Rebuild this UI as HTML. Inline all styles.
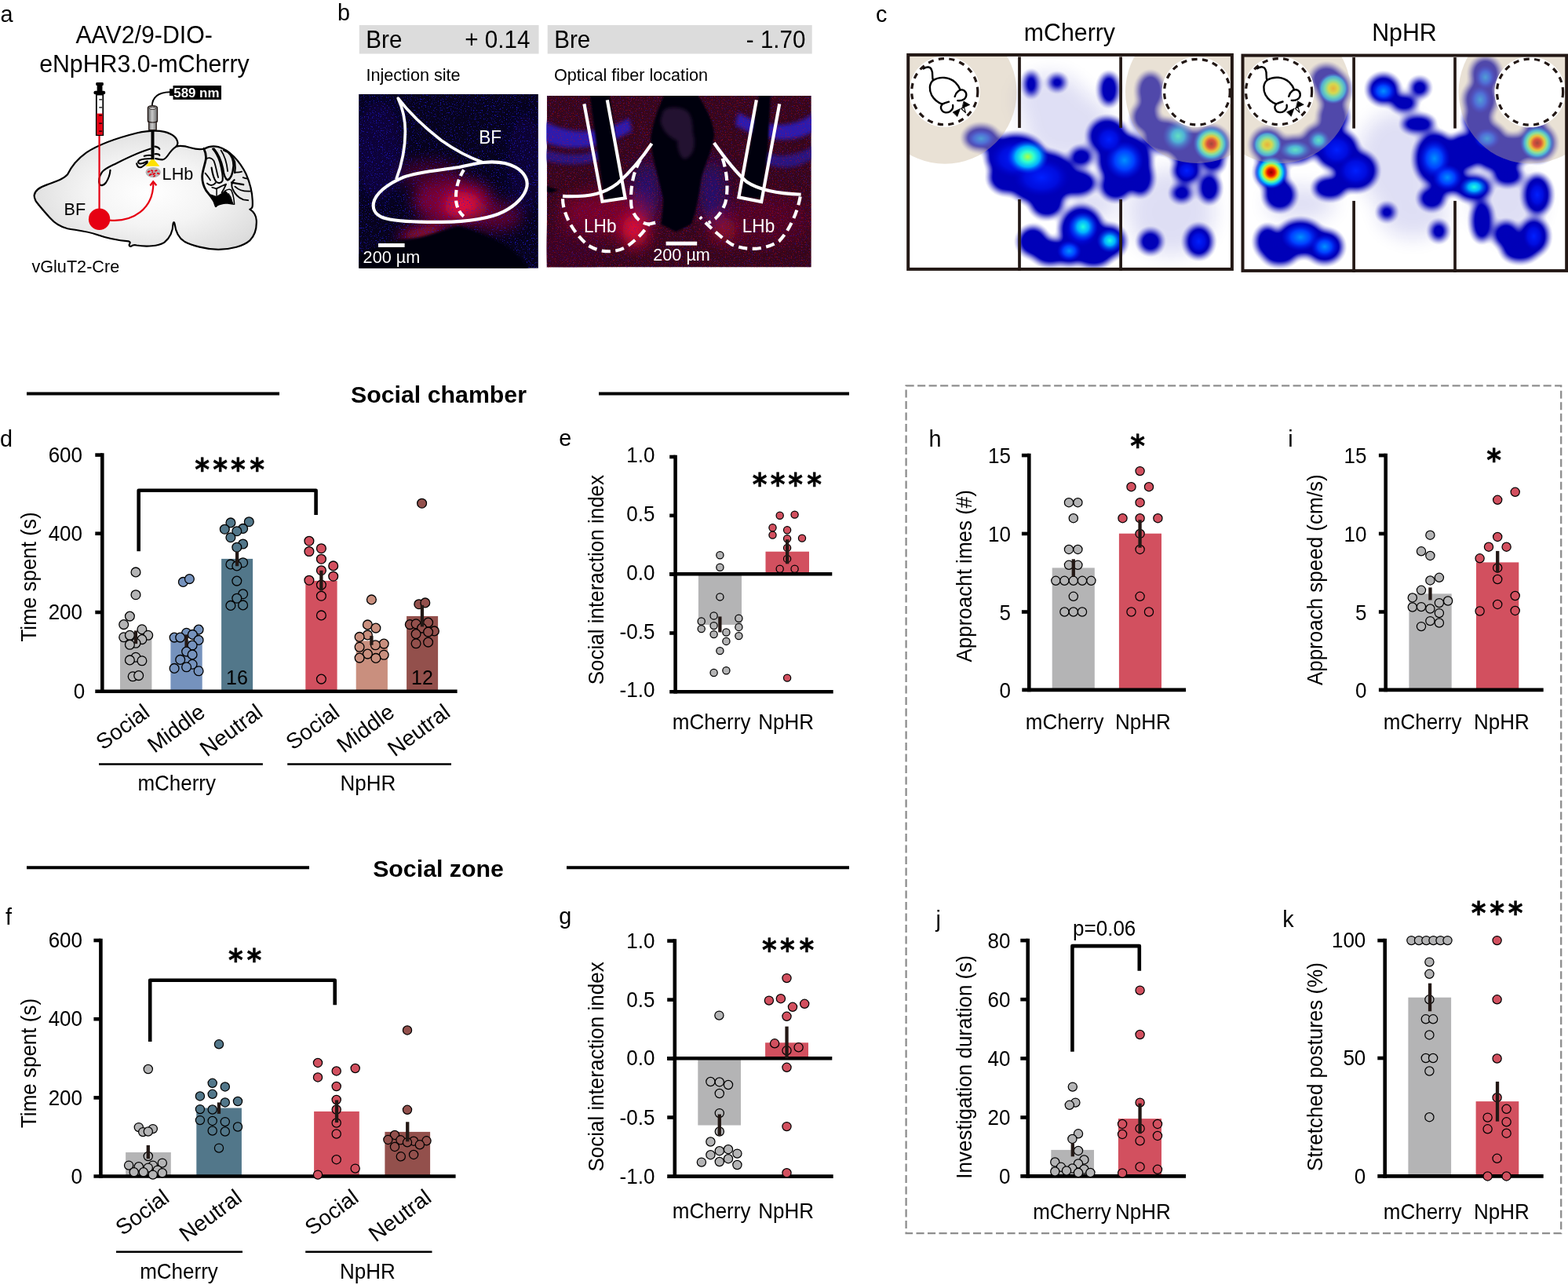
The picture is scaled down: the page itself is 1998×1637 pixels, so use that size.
<!DOCTYPE html>
<html lang="en">
<head>
<meta charset="utf-8">
<title>Figure</title>
<style>
html,body{margin:0;padding:0;background:#fff;}
body{width:1998px;height:1637px;overflow:hidden;}
svg{display:block;font-family:'Liberation Sans', sans-serif;}
</style>
</head>
<body>
<svg width="1998" height="1637" viewBox="0 0 1998 1637">
<defs>
<radialGradient id="brainG" cx="0.52" cy="0.52" r="0.62">
<stop offset="0" stop-color="#ffffff"/><stop offset="0.45" stop-color="#f4f4f4"/><stop offset="1" stop-color="#d9d9d9"/>
</radialGradient>
<linearGradient id="ferG" x1="0" x2="1" y1="0" y2="0">
<stop offset="0" stop-color="#5d5d5d"/><stop offset="0.45" stop-color="#c9c9c9"/><stop offset="1" stop-color="#6a6a6a"/>
</linearGradient>
<filter id="spk1" x="0" y="0" width="100%" height="100%" color-interpolation-filters="sRGB">
<feTurbulence type="fractalNoise" baseFrequency="0.62" numOctaves="2" seed="7" result="n"/>
<feColorMatrix in="n" type="matrix" values="0 0 0 0 0.12  0 0 0 0 0.10  0 0 0 0 0.85  0 0 6 0 -3.55"/>
</filter>
<filter id="spk2" x="0" y="0" width="100%" height="100%" color-interpolation-filters="sRGB">
<feTurbulence type="fractalNoise" baseFrequency="0.7" numOctaves="2" seed="23" result="n"/>
<feColorMatrix in="n" type="matrix" values="0 0 0 0 0.80  0 0 0 0 0.04  0 0 0 0 0.12  6 0 0 0 -3.6"/>
</filter>
<filter id="b2" x="-30%" y="-30%" width="160%" height="160%"><feGaussianBlur stdDeviation="6"/></filter>
<filter id="b4" x="-30%" y="-30%" width="160%" height="160%"><feGaussianBlur stdDeviation="12"/></filter>
<filter id="b8" x="-40%" y="-40%" width="180%" height="180%"><feGaussianBlur stdDeviation="8"/></filter>
<filter id="b14" x="-50%" y="-50%" width="200%" height="200%"><feGaussianBlur stdDeviation="55"/></filter>
<filter id="b30" x="-50%" y="-50%" width="200%" height="200%"><feGaussianBlur stdDeviation="16"/></filter>
<filter id="heat" x="-10%" y="-10%" width="120%" height="120%" color-interpolation-filters="sRGB">
<feGaussianBlur stdDeviation="5.2"/>
<feComponentTransfer><feFuncA type="linear" slope="1.55" intercept="-0.12"/></feComponentTransfer>
</filter>
<filter id="heat2" x="-10%" y="-10%" width="120%" height="120%" color-interpolation-filters="sRGB">
<feGaussianBlur stdDeviation="3.4"/>
</filter>
<radialGradient id="hotR"><stop offset="0" stop-color="#8a0000"/><stop offset="0.22" stop-color="#e81000"/><stop offset="0.42" stop-color="#ffd000"/><stop offset="0.58" stop-color="#60ffa0"/><stop offset="0.74" stop-color="#00b0ff"/><stop offset="1" stop-color="#0030ff" stop-opacity="0"/></radialGradient>
<radialGradient id="hotY"><stop offset="0" stop-color="#ffb000"/><stop offset="0.3" stop-color="#e0f020"/><stop offset="0.55" stop-color="#40f0c0"/><stop offset="0.78" stop-color="#00a0ff"/><stop offset="1" stop-color="#0030ff" stop-opacity="0"/></radialGradient>
<radialGradient id="hotG"><stop offset="0" stop-color="#b0ff40"/><stop offset="0.3" stop-color="#30ffd0"/><stop offset="0.6" stop-color="#00b0ff"/><stop offset="1" stop-color="#0030ff" stop-opacity="0"/></radialGradient>
<radialGradient id="hotC"><stop offset="0" stop-color="#20ffe0"/><stop offset="0.4" stop-color="#00b0ff"/><stop offset="1" stop-color="#0030ff" stop-opacity="0"/></radialGradient>
<radialGradient id="hotB"><stop offset="0" stop-color="#0090ff"/><stop offset="0.5" stop-color="#0040ff"/><stop offset="1" stop-color="#0010f0" stop-opacity="0"/></radialGradient>
<radialGradient id="hotD"><stop offset="0" stop-color="#0020ff"/><stop offset="0.6" stop-color="#0010e8" stop-opacity="0.8"/><stop offset="1" stop-color="#0000d0" stop-opacity="0"/></radialGradient>
<clipPath id="im1"><rect x="457.1" y="119.9" width="228.8" height="221.9"/></clipPath>
<clipPath id="im2"><rect x="696.8" y="122" width="337" height="218.5"/></clipPath>
<clipPath id="hm1"><rect x="1157.2" y="70.5" width="412.7" height="272.4"/></clipPath>
<clipPath id="hm2"><rect x="1583.5" y="71.1" width="414.5" height="273.8"/></clipPath>
</defs>
<text transform="translate(0.50 27.60) scale(1 1.045)" font-size="28.8">a</text>
<text transform="translate(183.60 55.40) scale(1 1.045)" font-size="30.3" text-anchor="middle">AAV2/9-DIO-</text>
<text transform="translate(183.90 91.50) scale(1 1.045)" font-size="30.3" text-anchor="middle">eNpHR3.0-mCherry</text>
<text transform="translate(40.40 346.80) scale(1 1.045)" font-size="21.65">vGluT2-Cre</text>
<g transform="translate(30 95) scale(0.16016)" fill="none" stroke="#000" stroke-width="13.5" stroke-linecap="round" stroke-linejoin="round">
<path fill="url(#brainG)" d="M85 960 C 90 920 130 895 190 875 C 260 850 320 830 350 795 C 380 730 430 670 500 620 C 600 555 760 500 900 465 C 980 448 1060 442 1120 455 C 1180 470 1220 500 1226 540 C 1228 555 1222 565 1215 572 C 1250 562 1290 570 1330 582 C 1370 594 1410 596 1440 590 C 1470 572 1510 566 1550 575 C 1640 600 1720 690 1770 790 C 1805 870 1825 960 1822 1040 C 1822 1060 1815 1068 1800 1072 C 1830 1090 1850 1120 1853 1160 C 1856 1220 1840 1280 1800 1320 C 1750 1365 1650 1390 1550 1392 C 1450 1390 1340 1360 1280 1328 C 1235 1300 1210 1250 1202 1185 C 1200 1170 1192 1170 1190 1185 C 1188 1250 1165 1300 1120 1335 C 1070 1365 980 1372 900 1358 C 880 1352 868 1356 855 1366 C 845 1368 838 1360 842 1350 C 850 1338 850 1330 835 1326 C 760 1320 660 1300 580 1272 C 500 1245 420 1238 350 1225 C 290 1212 250 1185 210 1140 C 170 1095 130 1050 100 1010 C 88 990 84 975 85 960 Z"/>
<path d="M1010 590 C 920 615 820 665 740 705 C 690 730 650 745 625 775 C 600 810 595 850 605 872 C 615 888 640 880 655 860 C 675 830 688 790 690 760"/>
<path d="M1215 572 C 1195 585 1170 610 1150 640 C 1135 662 1128 672 1110 676 C 1090 678 1070 672 1050 668"/>
<path d="M1020 668 C 980 668 950 670 925 680 C 905 690 910 705 925 708 C 945 712 965 700 985 690"/>
<path d="M900 708 C 905 728 915 740 930 738 C 950 735 965 715 985 700"/>
<path d="M1045 572 C 1065 575 1078 582 1082 592 M1045 632 C 1065 630 1078 634 1082 642 M960 648 C 990 640 1010 640 1025 645"/>
</g>
<g transform="translate(240 170) scale(0.0501)" fill="none" stroke="#000" stroke-linecap="round" stroke-linejoin="round">
<path stroke-width="55" d="M395 385 C 440 480 455 580 445 660 C 420 800 370 920 355 1060 C 345 1200 380 1330 450 1450 C 520 1540 600 1620 660 1740 L 700 1850"/>
<path stroke="none" fill="#000" d="M560 1540 L 700 1870 C 760 1830 850 1790 1000 1790 L 1160 1815 C 1120 1700 1050 1580 990 1500 L 930 1440 C 900 1480 820 1540 740 1580 L 700 1590 Z"/>
<path stroke-width="36" d="M450 650 C 520 600 600 620 650 700 C 700 820 720 980 760 1120"/>
<path stroke-width="42" d="M590 870 C 610 1000 650 1150 700 1220 C 760 1280 840 1270 870 1200 C 890 1100 860 950 800 720 C 760 600 700 480 620 390"/>
<path stroke-width="50" d="M650 390 C 760 520 840 700 880 900 C 900 1050 930 1150 1000 1185 C 1080 1150 1130 1020 1150 820 C 1150 700 1100 560 1020 480"/>
<path stroke-width="34" d="M830 430 C 920 560 980 760 1000 960"/>
<path stroke-width="44" d="M900 430 C 1020 470 1130 580 1180 720 C 1195 820 1195 920 1180 1000"/>
<path stroke-width="34" d="M1190 990 C 1260 995 1320 985 1360 970 M1390 1120 C 1430 1135 1470 1145 1505 1150"/>
<path stroke-width="34" d="M430 1010 C 480 1070 530 1130 560 1190"/>
<path stroke-width="42" d="M480 1270 C 540 1330 620 1340 690 1260"/>
<path stroke-width="30" d="M600 1370 C 660 1380 700 1395 720 1420 V 1580"/>
<path stroke-width="36" d="M720 1400 C 800 1360 880 1320 960 1290 C 930 1360 900 1430 850 1500"/>
<path stroke-width="50" d="M1100 1250 C 1200 1265 1300 1285 1400 1300"/>
<path stroke-width="38" d="M1170 1180 C 1100 1230 1090 1310 1120 1400 C 1170 1520 1280 1640 1400 1685 L 1520 1700"/>
<path stroke-width="36" d="M1185 1350 C 1280 1440 1400 1480 1570 1470"/>
<path stroke-width="30" d="M950 1450 C 1000 1420 1050 1405 1090 1440 C 1130 1520 1160 1650 1170 1800"/>
<path stroke-width="26" d="M1020 1530 C 1060 1580 1090 1640 1100 1700"/>
</g>
<g transform="translate(100 95) scale(0.1002)">
<line x1="265" y1="770" x2="265" y2="1770" stroke="#e60012" stroke-width="22"/>
<rect x="228" y="255" width="84" height="515" fill="#fff" stroke="#000" stroke-width="18"/>
<rect x="233" y="495" width="74" height="270" fill="#e60012"/>
<path d="M262 318H300M262 418H300M262 518H300M262 620H300M262 720H300" stroke="#000" stroke-width="11" fill="none"/>
<rect x="194" y="208" width="147" height="44" rx="20" fill="#000"/>
<rect x="236" y="130" width="68" height="85" fill="#000"/>
<rect x="222" y="100" width="96" height="40" rx="14" fill="#000"/>
<path d="M935 410 C 935 300 1000 225 1165 222" fill="none" stroke="#000" stroke-width="18"/>
<rect x="1158" y="182" width="50" height="88" fill="#000"/>
<rect x="1203" y="140" width="613" height="178" fill="#000"/>
</g>
<text transform="translate(250.35 124.10) scale(1 1.0)" font-size="16.9" text-anchor="middle" font-weight="bold" fill="#fff">589 nm</text>
<g transform="translate(100 95) scale(0.1002)">
<path d="M882 425 C 882 385 1003 385 1003 425 V 590 C 1003 600 995 606 990 610 V 705 H 895 V 610 C 890 606 882 600 882 590 Z" fill="url(#ferG)" stroke="#231815" stroke-width="13" stroke-linejoin="round"/>
<path d="M884 590 C 900 615 985 615 1001 590" fill="none" stroke="#231815" stroke-width="12"/>
<ellipse cx="942" cy="427" rx="42" ry="16" fill="#d8d8d8" stroke="#231815" stroke-width="9"/>
<line x1="943" y1="712" x2="943" y2="1085" stroke="#000" stroke-width="40"/>
<polygon points="925,1080 962,1080 1032,1166 853,1166" fill="#ffe100"/>
<ellipse cx="950" cy="1243" rx="96" ry="66" fill="#b5b5b6"/>
<g fill="#e60012"><ellipse cx="895" cy="1232" rx="20" ry="11" transform="rotate(-20 895 1232)"/><ellipse cx="935" cy="1222" rx="18" ry="10" transform="rotate(25 935 1222)"/><ellipse cx="985" cy="1222" rx="20" ry="10" transform="rotate(-15 985 1222)"/><ellipse cx="1015" cy="1258" rx="20" ry="11" transform="rotate(20 1015 1258)"/><ellipse cx="960" cy="1262" rx="22" ry="11" transform="rotate(-30 960 1262)"/><ellipse cx="915" cy="1272" rx="22" ry="11" transform="rotate(-25 915 1272)"/><ellipse cx="965" cy="1290" rx="18" ry="9" transform="rotate(-35 965 1290)"/><ellipse cx="940" cy="1245" rx="12" ry="8" transform="rotate(0 940 1245)"/></g>
<path d="M400 1852 C 680 1875 955 1720 952 1370" fill="none" stroke="#e60012" stroke-width="22"/>
<path d="M912 1412 L950 1360 L992 1410" fill="none" stroke="#e60012" stroke-width="22" stroke-linejoin="miter"/>
</g>
<circle cx="126.6" cy="279.2" r="13.7" fill="#e60012"/>
<text transform="translate(81.50 274.40) scale(1 1.045)" font-size="21.65">BF</text>
<text transform="translate(206.60 229.20) scale(1 1.045)" font-size="21.65">LHb</text>
<text transform="translate(430.00 25.60) scale(1 1.045)" font-size="28.8">b</text>
<rect x="457.80" y="32.00" width="228.70" height="36.50" fill="#dcdcdc"/>
<rect x="697.70" y="32.00" width="337.00" height="36.50" fill="#dcdcdc"/>
<text transform="translate(466.30 61.20) scale(1 1.045)" font-size="29.6">Bre</text>
<text transform="translate(675.40 61.20) scale(1 1.045)" font-size="29.6" text-anchor="end">+ 0.14</text>
<text transform="translate(706.20 61.20) scale(1 1.045)" font-size="29.6">Bre</text>
<text transform="translate(1026.50 61.20) scale(1 1.045)" font-size="29.6" text-anchor="end">- 1.70</text>
<text transform="translate(466.40 102.60) scale(1 1.045)" font-size="21.65">Injection site</text>
<text transform="translate(706.00 102.60) scale(1 1.045)" font-size="21.65">Optical fiber location</text>
<g clip-path="url(#im1)">
<rect x="457.10" y="119.90" width="228.80" height="221.90" fill="#07031c"/>
<g transform="translate(440 100) scale(0.15276)">
<g filter="url(#b14)">
<ellipse cx="900" cy="1020" rx="330" ry="190" fill="#a00838" opacity="0.75"/>
<ellipse cx="980" cy="1060" rx="150" ry="110" fill="#ff1040" opacity="0.8"/>
<ellipse cx="640" cy="1290" rx="200" ry="50" fill="#e01038" opacity="0.85" transform="rotate(-12 640 1290)"/>
<ellipse cx="1250" cy="1150" rx="220" ry="120" fill="#900830" opacity="0.6"/>
<ellipse cx="700" cy="800" rx="250" ry="120" fill="#60082c" opacity="0.6"/>
<ellipse cx="280" cy="600" rx="200" ry="420" fill="#1a10a0" opacity="0.22"/>
<ellipse cx="1500" cy="700" rx="150" ry="400" fill="#1a10a0" opacity="0.18"/>
</g>
</g>
<rect x="457.1" y="119.9" width="228.8" height="221.9" filter="url(#spk1)" opacity="0.75"/>
<g transform="translate(440 100) scale(0.15276)">
<path d="M112 1600 V 1470 C 250 1400 400 1350 520 1340 C 650 1330 800 1270 900 1240 C 940 1228 960 1228 1000 1245 C 1100 1280 1250 1330 1350 1400 C 1430 1460 1500 1530 1540 1600 Z" fill="#04020a" filter="url(#b4)"/>
</g>
</g>
<g transform="translate(440 100) scale(0.15276)" fill="none" stroke="#fff" stroke-width="27" stroke-linejoin="round" stroke-linecap="butt">
<path d="M1150 700 C 1250 690 1350 700 1420 740 C 1490 780 1525 840 1515 900 C 1500 980 1420 1060 1320 1110 C 1200 1170 1000 1195 800 1197 C 650 1198 450 1195 350 1170 C 260 1150 225 1100 235 1040 C 250 960 350 880 480 825 C 620 775 800 765 950 740 C 1030 722 1100 705 1150 700 Z"/>
<path d="M425 840 C 470 720 500 580 500 440 C 500 330 470 230 440 165 C 520 270 650 400 800 515 C 920 600 1050 665 1150 700" stroke-width="24"/>
<path d="M1000 745 C 940 830 915 930 925 1030 C 935 1090 960 1130 995 1155" stroke-dasharray="58 32" stroke-dashoffset="-20"/>
</g>
<text transform="translate(610.30 182.50) scale(1 1.045)" font-size="22.6" fill="#fff">BF</text>
<rect x="482.00" y="310.00" width="33.60" height="4.90" fill="#fff"/>
<text transform="translate(462.60 334.50) scale(1 1.045)" font-size="21.65" fill="#fff">200 µm</text>
<g clip-path="url(#im2)">
<rect x="696.80" y="122.00" width="337.00" height="218.50" fill="#36061a"/>
<g transform="translate(690 100) scale(0.18018)">
<g filter="url(#b14)">
</g><g filter="url(#b30)">
<path d="M20 300 C 200 400 400 400 620 280 L 640 370 C 420 500 200 520 20 450 Z" fill="#2a1cc8" opacity="0.85"/>
<path d="M1930 240 C 1750 380 1550 330 1390 240 L 1370 330 C 1540 430 1760 480 1930 370 Z" fill="#2a1cc8" opacity="0.85"/>
<path d="M20 500 C 200 560 350 540 480 470 L 500 540 C 380 610 200 630 20 580 Z" fill="#2418a8" opacity="0.7"/>
<path d="M1930 470 C 1800 560 1650 560 1560 510 L 1550 580 C 1650 650 1800 650 1930 560 Z" fill="#2418a8" opacity="0.7"/>
</g><g filter="url(#b14)">
<ellipse cx="740" cy="800" rx="90" ry="220" fill="#1c1490" opacity="0.7"/>
<ellipse cx="1210" cy="800" rx="90" ry="220" fill="#1c1490" opacity="0.7"/>
<ellipse cx="450" cy="950" rx="320" ry="150" fill="#90082c" opacity="0.7"/>
<ellipse cx="660" cy="1080" rx="90" ry="110" fill="#ff1038" opacity="0.9"/>
<ellipse cx="1290" cy="1070" rx="90" ry="90" fill="#c00c30" opacity="0.7"/>
<ellipse cx="1600" cy="1000" rx="300" ry="180" fill="#600828" opacity="0.6"/>
<ellipse cx="200" cy="1200" rx="250" ry="150" fill="#40082a" opacity="0.6"/>
</g>
</g>
<rect x="696.8" y="122" width="337" height="218.5" filter="url(#spk1)" opacity="0.45"/>
<rect x="696.8" y="122" width="337" height="218.5" filter="url(#spk2)" opacity="0.5"/>
<g transform="translate(690 100) scale(0.18018)">
<g filter="url(#b2)" fill="#05020c">
<path d="M870 110 C 830 200 790 300 772 420 C 770 520 830 700 860 850 C 860 930 850 980 845 1030 L 950 1085 L 1060 1030 C 1090 950 1110 850 1130 700 C 1160 600 1210 500 1222 400 C 1215 300 1160 200 1100 110 Z"/>
<path d="M340 110 L 480 110 L 585 850 L 445 868 Z"/>
<path d="M1540 110 L 1620 110 L 1600 500 L 1555 850 L 1410 835 L 1480 450 Z"/>
<path d="M38 760 L 120 790 L 60 810 L 38 800 Z"/>
</g>
<path d="M860 230 C 900 190 1000 200 1040 240 C 1080 300 1060 360 1080 420 C 1090 500 1060 560 1010 570 C 980 560 960 500 960 440 C 900 420 850 360 840 300 Z" fill="#2c1638" opacity="0.85" filter="url(#b4)"/>
</g>
</g>
<g transform="translate(690 100) scale(0.18018)" fill="none" stroke="#fff" stroke-width="23" stroke-linejoin="miter" stroke-linecap="butt">
<path d="M302 180 L430 870 L592 845 L465 152"/>
<path d="M1520 152 L1395 840 L1555 872 L1683 180"/>
<path d="M780 460 C 720 550 640 650 540 740 C 450 810 350 840 150 832"/>
<path d="M1220 455 C 1280 540 1360 650 1450 730 C 1540 790 1680 815 1835 820"/>
<g stroke-dasharray="62 36">
<path d="M150 850 C 150 960 230 1100 330 1180 C 420 1235 520 1235 600 1190 C 690 1130 740 1060 760 1030 L 810 1018"/>
<path d="M700 575 C 650 650 625 780 635 900 C 650 980 700 1025 760 1030"/>
<path d="M1830 835 C 1810 950 1750 1080 1680 1150 C 1580 1215 1440 1220 1340 1170 C 1250 1110 1170 1030 1120 980"/>
<path d="M1280 565 C 1310 650 1325 780 1300 880 C 1270 960 1230 1000 1180 1020"/>
</g></g>
<text transform="translate(744.00 295.50) scale(1 1.045)" font-size="22.6" fill="#fff">LHb</text>
<text transform="translate(945.80 295.50) scale(1 1.045)" font-size="22.6" fill="#fff">LHb</text>
<rect x="848.60" y="307.70" width="39.60" height="4.90" fill="#fff"/>
<text transform="translate(832.30 331.50) scale(1 1.045)" font-size="21.65" fill="#fff">200 µm</text>
<text transform="translate(1116.00 27.90) scale(1 1.045)" font-size="28.8">c</text>
<text transform="translate(1362.90 51.70) scale(1 1.045)" font-size="30.3" text-anchor="middle">mCherry</text>
<text transform="translate(1789.40 51.70) scale(1 1.045)" font-size="30.3" text-anchor="middle">NpHR</text>
<g clip-path="url(#hm1)">
<g transform="translate(1140 50) scale(0.22022)">
<g filter="url(#b14)" fill="#1010b0" opacity="0.13"><ellipse cx="1000" cy="500" rx="250" ry="200"/><ellipse cx="1600" cy="1000" rx="250" ry="250"/><ellipse cx="900" cy="350" rx="200" ry="150"/><ellipse cx="1150" cy="950" rx="150" ry="100"/></g>
</g>
<g filter="url(#heat)">
<g transform="translate(1140 50) scale(0.22022)" fill="#0000b8"><ellipse cx="500" cy="570" rx="95" ry="65"/><ellipse cx="700" cy="680" rx="165" ry="125"/><ellipse cx="850" cy="800" rx="200" ry="150"/><ellipse cx="650" cy="800" rx="100" ry="85"/><ellipse cx="1050" cy="830" rx="110" ry="70"/><ellipse cx="880" cy="950" rx="90" ry="75"/><ellipse cx="1080" cy="680" rx="60" ry="50"/><ellipse cx="1230" cy="560" rx="105" ry="100"/><ellipse cx="1330" cy="700" rx="150" ry="150"/><ellipse cx="1280" cy="850" rx="85" ry="75"/><ellipse cx="1420" cy="800" rx="70" ry="100"/><ellipse cx="790" cy="260" rx="36" ry="68"/><ellipse cx="940" cy="250" rx="45" ry="40"/><ellipse cx="1240" cy="290" rx="50" ry="88"/><ellipse cx="800" cy="1170" rx="80" ry="80"/><ellipse cx="900" cy="1230" rx="100" ry="70"/><ellipse cx="1080" cy="1100" rx="120" ry="130"/><ellipse cx="1240" cy="1170" rx="90" ry="90"/><ellipse cx="1010" cy="1230" rx="80" ry="70"/><ellipse cx="1150" cy="1250" rx="100" ry="60"/><ellipse cx="1480" cy="1170" rx="62" ry="62"/><ellipse cx="1760" cy="1170" rx="75" ry="88"/><ellipse cx="1690" cy="760" rx="75" ry="70"/><ellipse cx="1820" cy="860" rx="55" ry="80"/><ellipse cx="1660" cy="890" rx="55" ry="45"/><ellipse cx="1480" cy="300" rx="70" ry="100"/><ellipse cx="1450" cy="450" rx="70" ry="80"/><ellipse cx="1560" cy="560" rx="110" ry="90"/><ellipse cx="1700" cy="620" rx="120" ry="90"/><ellipse cx="1830" cy="610" rx="100" ry="100"/><ellipse cx="1840" cy="720" rx="60" ry="40"/></g>
</g>
<g transform="translate(1140 50) scale(0.22022)">
<ellipse cx="700" cy="690" rx="150" ry="110" fill="url(#hotD)"/><ellipse cx="850" cy="800" rx="160" ry="110" fill="url(#hotD)"/><ellipse cx="1330" cy="700" rx="110" ry="110" fill="url(#hotB)"/><ellipse cx="1240" cy="580" rx="80" ry="80" fill="url(#hotD)"/><ellipse cx="1690" cy="760" rx="60" ry="55" fill="url(#hotD)"/><ellipse cx="1760" cy="1170" rx="60" ry="70" fill="url(#hotD)"/><ellipse cx="1010" cy="1225" rx="70" ry="60" fill="url(#hotB)"/><ellipse cx="500" cy="575" rx="85" ry="55" fill="url(#hotB)"/><ellipse cx="1080" cy="1100" rx="100" ry="100" fill="url(#hotD)"/><ellipse cx="1640" cy="560" rx="90" ry="90" fill="url(#hotC)"/>
<ellipse cx="770" cy="680" rx="120" ry="100" fill="url(#hotG)"/><ellipse cx="1090" cy="1085" rx="85" ry="85" fill="url(#hotC)"/><ellipse cx="1245" cy="1165" rx="75" ry="70" fill="url(#hotC)"/><ellipse cx="1832" cy="605" rx="105" ry="105" fill="url(#hotR)"/>
<circle cx="291" cy="306" r="415" fill="#c8b496" opacity="0.4"/>
<circle cx="1750" cy="303" r="415" fill="#c8b496" opacity="0.4"/>
<circle cx="289.5" cy="303" r="205" fill="#fff"/>
<circle cx="1750" cy="305" r="204" fill="#fff"/>
</g></g>
<g transform="translate(1140 50) scale(0.22022)">
<circle cx="289.5" cy="303" r="191" fill="#fff" stroke="#231815" stroke-width="14.5" stroke-dasharray="32.5 29.1"/>
<circle cx="1750" cy="305" r="190" fill="#fff" stroke="#231815" stroke-width="14.5" stroke-dasharray="32.5 29.1"/>
</g>
<g clip-path="url(#hm2)">
<g transform="translate(1558 50) scale(0.22022)">
<g filter="url(#b14)" fill="#1010b0" opacity="0.13"><ellipse cx="1000" cy="700" rx="220" ry="280"/><ellipse cx="1650" cy="950" rx="200" ry="200"/><ellipse cx="450" cy="950" rx="200" ry="100"/><ellipse cx="1100" cy="1000" rx="200" ry="150"/></g>
</g>
<g filter="url(#heat)">
<g transform="translate(1558 50) scale(0.22022)" fill="#0000b8"><ellipse cx="600" cy="230" rx="85" ry="75"/><ellipse cx="640" cy="290" rx="90" ry="100"/><ellipse cx="640" cy="450" rx="80" ry="90"/><ellipse cx="560" cy="580" rx="90" ry="80"/><ellipse cx="420" cy="640" rx="110" ry="70"/><ellipse cx="260" cy="610" rx="90" ry="90"/><ellipse cx="280" cy="770" rx="85" ry="85"/><ellipse cx="330" cy="900" rx="85" ry="85"/><ellipse cx="660" cy="640" rx="120" ry="110"/><ellipse cx="770" cy="760" rx="120" ry="110"/><ellipse cx="620" cy="860" rx="90" ry="60"/><ellipse cx="260" cy="1170" rx="65" ry="85"/><ellipse cx="450" cy="1150" rx="130" ry="100"/><ellipse cx="590" cy="1200" rx="100" ry="90"/><ellipse cx="330" cy="1250" rx="90" ry="50"/><ellipse cx="930" cy="290" rx="85" ry="80"/><ellipse cx="1140" cy="280" rx="50" ry="48"/><ellipse cx="1050" cy="370" rx="70" ry="45"/><ellipse cx="1130" cy="490" rx="90" ry="45"/><ellipse cx="950" cy="1000" rx="45" ry="42"/><ellipse cx="1250" cy="1110" rx="45" ry="52"/><ellipse cx="1230" cy="690" rx="115" ry="150"/><ellipse cx="1300" cy="800" rx="100" ry="90"/><ellipse cx="1210" cy="920" rx="70" ry="60"/><ellipse cx="1450" cy="860" rx="100" ry="70"/><ellipse cx="1400" cy="650" rx="100" ry="100"/><ellipse cx="1600" cy="700" rx="120" ry="60"/><ellipse cx="1520" cy="200" rx="80" ry="90"/><ellipse cx="1490" cy="350" rx="90" ry="100"/><ellipse cx="1475" cy="470" rx="75" ry="80"/><ellipse cx="1530" cy="570" rx="100" ry="80"/><ellipse cx="1680" cy="640" rx="100" ry="80"/><ellipse cx="1820" cy="600" rx="100" ry="100"/><ellipse cx="1810" cy="490" rx="50" ry="30"/><ellipse cx="1820" cy="900" rx="75" ry="110"/><ellipse cx="1500" cy="1050" rx="55" ry="115"/><ellipse cx="1640" cy="1130" rx="70" ry="70"/><ellipse cx="1800" cy="1140" rx="80" ry="100"/><ellipse cx="1720" cy="1220" rx="100" ry="60"/><ellipse cx="1650" cy="790" rx="80" ry="50"/></g>
</g>
<g transform="translate(1558 50) scale(0.22022)">
<ellipse cx="660" cy="640" rx="100" ry="90" fill="url(#hotD)"/><ellipse cx="770" cy="760" rx="100" ry="90" fill="url(#hotD)"/><ellipse cx="450" cy="1145" rx="110" ry="80" fill="url(#hotB)"/><ellipse cx="590" cy="1200" rx="80" ry="70" fill="url(#hotB)"/><ellipse cx="930" cy="300" rx="75" ry="65" fill="url(#hotB)"/><ellipse cx="1225" cy="690" rx="90" ry="110" fill="url(#hotB)"/><ellipse cx="1300" cy="800" rx="85" ry="75" fill="url(#hotB)"/><ellipse cx="1455" cy="855" rx="85" ry="60" fill="url(#hotC)"/><ellipse cx="1800" cy="1140" rx="60" ry="80" fill="url(#hotD)"/><ellipse cx="1820" cy="900" rx="55" ry="80" fill="url(#hotD)"/><ellipse cx="1520" cy="220" rx="60" ry="70" fill="url(#hotB)"/><ellipse cx="1490" cy="350" rx="65" ry="80" fill="url(#hotB)"/><ellipse cx="1530" cy="575" rx="75" ry="60" fill="url(#hotB)"/><ellipse cx="555" cy="585" rx="65" ry="60" fill="url(#hotC)"/><ellipse cx="420" cy="640" rx="95" ry="55" fill="url(#hotC)"/>
<ellipse cx="640" cy="285" rx="90" ry="90" fill="url(#hotY)"/><ellipse cx="258" cy="610" rx="85" ry="80" fill="url(#hotY)"/><ellipse cx="280" cy="770" rx="95" ry="95" fill="url(#hotR)"/><ellipse cx="1820" cy="600" rx="100" ry="100" fill="url(#hotR)"/>
<circle cx="326" cy="304" r="415" fill="#c8b496" opacity="0.4"/>
<circle cx="1780" cy="305" r="415" fill="#c8b496" opacity="0.4"/>
<circle cx="325" cy="302.5" r="205" fill="#fff"/>
<circle cx="1778" cy="305" r="205" fill="#fff"/>
</g></g>
<g transform="translate(1558 50) scale(0.22022)">
<circle cx="325" cy="302.5" r="191" fill="#fff" stroke="#231815" stroke-width="14.5" stroke-dasharray="32.5 29.1"/>
<circle cx="1778" cy="305" r="191" fill="#fff" stroke="#231815" stroke-width="14.5" stroke-dasharray="32.5 29.1"/>
</g>
<rect x="1157.2" y="69.9" width="412.7" height="273.0" fill="none" stroke="#231815" stroke-width="4.0"/>
<line x1="1299.00" y1="72.40" x2="1299.00" y2="162.90" stroke="#231815" stroke-width="3.7" stroke-linecap="butt"/>
<line x1="1299.00" y1="253.90" x2="1299.00" y2="344.90" stroke="#231815" stroke-width="3.7" stroke-linecap="butt"/>
<line x1="1428.10" y1="72.40" x2="1428.10" y2="162.90" stroke="#231815" stroke-width="3.7" stroke-linecap="butt"/>
<line x1="1428.10" y1="253.90" x2="1428.10" y2="344.90" stroke="#231815" stroke-width="3.7" stroke-linecap="butt"/>
<rect x="1583.5" y="70.6" width="412.7" height="274.3" fill="none" stroke="#231815" stroke-width="4.0"/>
<line x1="1725.10" y1="73.10" x2="1725.10" y2="163.60" stroke="#231815" stroke-width="3.7" stroke-linecap="butt"/>
<line x1="1725.10" y1="255.90" x2="1725.10" y2="346.90" stroke="#231815" stroke-width="3.7" stroke-linecap="butt"/>
<line x1="1854.00" y1="73.10" x2="1854.00" y2="163.60" stroke="#231815" stroke-width="3.7" stroke-linecap="butt"/>
<line x1="1854.00" y1="255.90" x2="1854.00" y2="346.90" stroke="#231815" stroke-width="3.7" stroke-linecap="butt"/>
<g transform="translate(1149.4 59.4) scale(0.08008)" fill="none" stroke="#000" stroke-width="30" stroke-linecap="round" stroke-linejoin="round">
<path d="M340 350 C 400 310 450 320 470 370 C 500 430 470 480 495 535"/>
<path d="M640 915 C 570 890 510 840 470 770 C 430 690 430 590 495 535 C 600 470 750 480 850 570 C 890 610 915 650 925 685"/>
<path d="M840 795 C 860 720 930 660 990 700 C 1040 740 1030 810 980 840 C 950 860 910 860 885 858"/>
<path d="M745 878 C 700 890 660 905 640 915 C 600 960 620 1030 680 1045 C 740 1060 790 1020 805 985 C 812 965 812 950 808 930"/>
<path d="M985 872 L1078 925 L958 978 Z M812 1042 L925 988 L880 1108 Z" fill="#000" stroke-width="10"/>
<path d="M940 985 L1012 1052 L990 972 Z" fill="#fff" stroke-width="14"/>
</g>
<g transform="translate(1574.9 59.2) scale(0.08008)" fill="none" stroke="#000" stroke-width="30" stroke-linecap="round" stroke-linejoin="round">
<path d="M340 350 C 400 310 450 320 470 370 C 500 430 470 480 495 535"/>
<path d="M640 915 C 570 890 510 840 470 770 C 430 690 430 590 495 535 C 600 470 750 480 850 570 C 890 610 915 650 925 685"/>
<path d="M840 795 C 860 720 930 660 990 700 C 1040 740 1030 810 980 840 C 950 860 910 860 885 858"/>
<path d="M745 878 C 700 890 660 905 640 915 C 600 960 620 1030 680 1045 C 740 1060 790 1020 805 985 C 812 965 812 950 808 930"/>
<path d="M985 872 L1078 925 L958 978 Z M812 1042 L925 988 L880 1108 Z" fill="#000" stroke-width="10"/>
<path d="M940 985 L1012 1052 L990 972 Z" fill="#fff" stroke-width="14"/>
</g>
<line x1="34.00" y1="501.40" x2="356.00" y2="501.40" stroke="#000" stroke-width="4.0" stroke-linecap="butt"/>
<line x1="763.00" y1="501.40" x2="1082.00" y2="501.40" stroke="#000" stroke-width="4.0" stroke-linecap="butt"/>
<text transform="translate(559.00 512.50) scale(1 1.0)" font-size="30.3" text-anchor="middle" font-weight="bold">Social chamber</text>
<line x1="34.00" y1="1105.30" x2="394.00" y2="1105.30" stroke="#000" stroke-width="4.0" stroke-linecap="butt"/>
<line x1="722.00" y1="1105.30" x2="1082.00" y2="1105.30" stroke="#000" stroke-width="4.0" stroke-linecap="butt"/>
<text transform="translate(558.50 1117.00) scale(1 1.0)" font-size="30.3" text-anchor="middle" font-weight="bold">Social zone</text>
<rect x="1154.6" y="491.3" width="834.6" height="1079.8" fill="none" stroke="#8e8e8e" stroke-width="2.3" stroke-dasharray="10.1 4.4"/>
<text transform="translate(0.00 568.50) scale(1 1.045)" font-size="28.8">d</text>
<rect x="153.00" y="813.40" width="40.40" height="67.30" fill="#b4b4b5"/>
<rect x="217.40" y="815.90" width="40.30" height="64.80" fill="#7592bd"/>
<rect x="282.10" y="711.90" width="40.00" height="168.80" fill="#52778a"/>
<rect x="389.30" y="739.90" width="40.30" height="140.80" fill="#d2505f"/>
<rect x="453.70" y="816.40" width="40.20" height="64.30" fill="#c98f7e"/>
<rect x="518.10" y="784.90" width="40.00" height="95.80" fill="#93504c"/>
<line x1="121.30" y1="880.70" x2="582.60" y2="880.70" stroke="#000" stroke-width="4.6" stroke-linecap="butt"/>
<line x1="130.30" y1="577.30" x2="130.30" y2="883.00" stroke="#000" stroke-width="4.6" stroke-linecap="butt"/>
<line x1="121.30" y1="579.60" x2="130.30" y2="579.60" stroke="#000" stroke-width="4.6" stroke-linecap="butt"/>
<text transform="translate(105.00 588.78) scale(1 1.045)" font-size="26" text-anchor="end">600</text>
<line x1="121.30" y1="679.70" x2="130.30" y2="679.70" stroke="#000" stroke-width="4.6" stroke-linecap="butt"/>
<text transform="translate(105.00 688.88) scale(1 1.045)" font-size="26" text-anchor="end">400</text>
<line x1="121.30" y1="780.00" x2="130.30" y2="780.00" stroke="#000" stroke-width="4.6" stroke-linecap="butt"/>
<text transform="translate(105.00 789.18) scale(1 1.045)" font-size="26" text-anchor="end">200</text>
<text transform="translate(105.00 889.88) scale(1 1.045)" font-size="26" text-anchor="end"></text>
<text transform="translate(108.30 889.88) scale(1 1.045)" font-size="26" text-anchor="end">0</text>
<text transform="translate(302.00 871.90) scale(1 1.045)" font-size="25" text-anchor="middle">16</text>
<text transform="translate(538.00 871.90) scale(1 1.045)" font-size="25" text-anchor="middle">12</text>
<g fill="#b4b4b5" stroke="#000" stroke-width="1.3"><circle cx="173.0" cy="728.9" r="5.9"/><circle cx="173.0" cy="757.7" r="5.9"/><circle cx="165.4" cy="785.1" r="5.9"/><circle cx="157.7" cy="795.6" r="5.9"/><circle cx="180.9" cy="801.8" r="5.9"/><circle cx="157.7" cy="811.8" r="5.9"/><circle cx="165.4" cy="809.3" r="5.9"/><circle cx="188.7" cy="809.3" r="5.9"/><circle cx="180.9" cy="814.6" r="5.9"/><circle cx="173.0" cy="819.3" r="5.9"/><circle cx="165.4" cy="821.3" r="5.9"/><circle cx="173.0" cy="837.3" r="5.9"/><circle cx="165.4" cy="840.9" r="5.9"/><circle cx="180.9" cy="841.8" r="5.9"/><circle cx="169.2" cy="861.8" r="5.9"/><circle cx="176.7" cy="860.6" r="5.9"/></g>
<line x1="173.03" y1="803.42" x2="173.03" y2="820.10" stroke="#231815" stroke-width="4.3" stroke-linecap="butt"/>
<g fill="#7592bd" stroke="#000" stroke-width="1.3"><circle cx="233.4" cy="741.4" r="5.9"/><circle cx="241.4" cy="737.6" r="5.9"/><circle cx="253.1" cy="802.1" r="5.9"/><circle cx="237.6" cy="806.3" r="5.9"/><circle cx="245.4" cy="808.4" r="5.9"/><circle cx="222.1" cy="812.1" r="5.9"/><circle cx="229.7" cy="812.1" r="5.9"/><circle cx="253.1" cy="815.4" r="5.9"/><circle cx="245.1" cy="822.1" r="5.9"/><circle cx="237.6" cy="830.1" r="5.9"/><circle cx="245.1" cy="833.9" r="5.9"/><circle cx="229.7" cy="840.4" r="5.9"/><circle cx="245.1" cy="846.3" r="5.9"/><circle cx="237.6" cy="849.8" r="5.9"/><circle cx="222.1" cy="851.4" r="5.9"/><circle cx="253.1" cy="854.8" r="5.9"/></g>
<line x1="237.56" y1="808.43" x2="237.56" y2="824.27" stroke="#231815" stroke-width="4.3" stroke-linecap="butt"/>
<g fill="#52778a" stroke="#000" stroke-width="1.3"><circle cx="317.3" cy="664.7" r="5.9"/><circle cx="293.9" cy="665.9" r="5.9"/><circle cx="309.6" cy="673.4" r="5.9"/><circle cx="286.3" cy="674.2" r="5.9"/><circle cx="301.8" cy="676.7" r="5.9"/><circle cx="293.9" cy="684.7" r="5.9"/><circle cx="309.6" cy="693.0" r="5.9"/><circle cx="301.8" cy="697.2" r="5.9"/><circle cx="309.6" cy="716.7" r="5.9"/><circle cx="293.9" cy="718.9" r="5.9"/><circle cx="301.8" cy="720.9" r="5.9"/><circle cx="301.8" cy="740.1" r="5.9"/><circle cx="309.6" cy="756.7" r="5.9"/><circle cx="301.8" cy="762.2" r="5.9"/><circle cx="293.9" cy="771.4" r="5.9"/><circle cx="309.6" cy="770.9" r="5.9"/></g>
<line x1="302.10" y1="702.87" x2="302.10" y2="721.22" stroke="#231815" stroke-width="4.3" stroke-linecap="butt"/>
<g fill="#d2505f" stroke="#000" stroke-width="1.3"><circle cx="393.9" cy="689.2" r="5.9"/><circle cx="409.4" cy="698.7" r="5.9"/><circle cx="393.9" cy="702.5" r="5.9"/><circle cx="409.4" cy="712.2" r="5.9"/><circle cx="424.7" cy="720.9" r="5.9"/><circle cx="409.4" cy="726.7" r="5.9"/><circle cx="424.7" cy="734.2" r="5.9"/><circle cx="393.9" cy="739.2" r="5.9"/><circle cx="409.4" cy="745.1" r="5.9"/><circle cx="409.4" cy="759.2" r="5.9"/><circle cx="409.4" cy="783.9" r="5.9"/><circle cx="409.4" cy="865.1" r="5.9"/></g>
<line x1="409.37" y1="726.72" x2="409.37" y2="752.57" stroke="#231815" stroke-width="4.3" stroke-linecap="butt"/>
<g fill="#c98f7e" stroke="#000" stroke-width="1.3"><circle cx="473.4" cy="763.9" r="5.9"/><circle cx="468.4" cy="795.9" r="5.9"/><circle cx="478.9" cy="800.1" r="5.9"/><circle cx="468.4" cy="808.9" r="5.9"/><circle cx="458.1" cy="811.4" r="5.9"/><circle cx="489.2" cy="820.1" r="5.9"/><circle cx="478.4" cy="821.8" r="5.9"/><circle cx="458.1" cy="824.3" r="5.9"/><circle cx="468.4" cy="833.1" r="5.9"/><circle cx="489.2" cy="834.3" r="5.9"/><circle cx="458.1" cy="838.1" r="5.9"/><circle cx="478.9" cy="838.4" r="5.9"/></g>
<line x1="473.40" y1="810.10" x2="473.40" y2="821.77" stroke="#231815" stroke-width="4.3" stroke-linecap="butt"/>
<g fill="#93504c" stroke="#000" stroke-width="1.3"><circle cx="537.6" cy="641.2" r="5.9"/><circle cx="533.8" cy="769.7" r="5.9"/><circle cx="541.8" cy="767.9" r="5.9"/><circle cx="522.3" cy="795.6" r="5.9"/><circle cx="530.1" cy="794.8" r="5.9"/><circle cx="545.6" cy="793.1" r="5.9"/><circle cx="537.6" cy="800.1" r="5.9"/><circle cx="553.4" cy="803.9" r="5.9"/><circle cx="545.6" cy="805.1" r="5.9"/><circle cx="530.1" cy="807.6" r="5.9"/><circle cx="530.1" cy="819.8" r="5.9"/><circle cx="545.6" cy="818.1" r="5.9"/></g>
<line x1="537.94" y1="770.91" x2="537.94" y2="798.42" stroke="#231815" stroke-width="4.3" stroke-linecap="butt"/>
<text transform="translate(45.80 735.00) rotate(-90) scale(1 1.045)" font-size="26" text-anchor="middle">Time spent (s)</text>
<path d="M176.70 702.20V624.70H402.60V655.90" fill="none" stroke="#000" stroke-width="4.6" stroke-linejoin="round"/>
<text transform="translate(257.60 612.30) scale(0.92 1)" font-family="'DejaVu Sans', sans-serif" font-weight="bold" font-size="39" text-anchor="middle" stroke="#000" stroke-width="0.5">*</text>
<text transform="translate(280.60 612.30) scale(0.92 1)" font-family="'DejaVu Sans', sans-serif" font-weight="bold" font-size="39" text-anchor="middle" stroke="#000" stroke-width="0.5">*</text>
<text transform="translate(303.40 612.30) scale(0.92 1)" font-family="'DejaVu Sans', sans-serif" font-weight="bold" font-size="39" text-anchor="middle" stroke="#000" stroke-width="0.5">*</text>
<text transform="translate(327.70 612.30) scale(0.92 1)" font-family="'DejaVu Sans', sans-serif" font-weight="bold" font-size="39" text-anchor="middle" stroke="#000" stroke-width="0.5">*</text>
<text transform="translate(192.50 911.00) rotate(-36.5)" font-size="28" text-anchor="end">Social</text>
<text transform="translate(263.30 911.00) rotate(-36.5)" font-size="28" text-anchor="end">Middle</text>
<text transform="translate(336.40 911.00) rotate(-36.5)" font-size="28" text-anchor="end">Neutral</text>
<text transform="translate(434.50 911.00) rotate(-36.5)" font-size="28" text-anchor="end">Social</text>
<text transform="translate(504.50 911.00) rotate(-36.5)" font-size="28" text-anchor="end">Middle</text>
<text transform="translate(575.50 911.00) rotate(-36.5)" font-size="28" text-anchor="end">Neutral</text>
<line x1="126.00" y1="973.50" x2="334.90" y2="973.50" stroke="#000" stroke-width="2.6" stroke-linecap="butt"/>
<line x1="366.20" y1="973.50" x2="575.00" y2="973.50" stroke="#000" stroke-width="2.6" stroke-linecap="butt"/>
<text transform="translate(225.20 1006.50) scale(1 1.045)" font-size="26" text-anchor="middle">mCherry</text>
<text transform="translate(468.90 1006.50) scale(1 1.045)" font-size="26" text-anchor="middle">NpHR</text>
<text transform="translate(7.00 1178.00) scale(1 1.045)" font-size="28.8">f</text>
<rect x="160.10" y="1468.00" width="57.70" height="30.50" fill="#b4b4b5"/>
<rect x="250.30" y="1411.50" width="57.60" height="87.00" fill="#52778a"/>
<rect x="400.10" y="1415.90" width="57.70" height="82.60" fill="#d2505f"/>
<rect x="490.40" y="1441.90" width="57.70" height="56.60" fill="#93504c"/>
<line x1="119.40" y1="1498.50" x2="580.60" y2="1498.50" stroke="#000" stroke-width="4.6" stroke-linecap="butt"/>
<line x1="128.40" y1="1195.70" x2="128.40" y2="1500.80" stroke="#000" stroke-width="4.6" stroke-linecap="butt"/>
<line x1="119.40" y1="1198.00" x2="128.40" y2="1198.00" stroke="#000" stroke-width="4.6" stroke-linecap="butt"/>
<text transform="translate(105.00 1207.18) scale(1 1.045)" font-size="26" text-anchor="end">600</text>
<line x1="119.40" y1="1298.20" x2="128.40" y2="1298.20" stroke="#000" stroke-width="4.6" stroke-linecap="butt"/>
<text transform="translate(105.00 1307.38) scale(1 1.045)" font-size="26" text-anchor="end">400</text>
<line x1="119.40" y1="1398.40" x2="128.40" y2="1398.40" stroke="#000" stroke-width="4.6" stroke-linecap="butt"/>
<text transform="translate(105.00 1407.58) scale(1 1.045)" font-size="26" text-anchor="end">200</text>
<text transform="translate(105.00 1507.68) scale(1 1.045)" font-size="26" text-anchor="end">0</text>
<g fill="#b4b4b5" stroke="#000" stroke-width="1.25"><circle cx="188.8" cy="1362.0" r="5.6"/><circle cx="176.8" cy="1436.1" r="5.6"/><circle cx="194.8" cy="1438.1" r="5.6"/><circle cx="182.2" cy="1442.1" r="5.6"/><circle cx="188.8" cy="1441.5" r="5.6"/><circle cx="188.8" cy="1473.0" r="5.6"/><circle cx="206.8" cy="1481.6" r="5.6"/><circle cx="164.1" cy="1484.6" r="5.6"/><circle cx="176.8" cy="1486.2" r="5.6"/><circle cx="194.8" cy="1484.6" r="5.6"/><circle cx="188.8" cy="1487.6" r="5.6"/><circle cx="200.8" cy="1490.6" r="5.6"/><circle cx="170.7" cy="1493.2" r="5.6"/><circle cx="182.8" cy="1493.2" r="5.6"/><circle cx="206.8" cy="1494.2" r="5.6"/><circle cx="194.8" cy="1496.6" r="5.6"/></g>
<line x1="188.78" y1="1458.96" x2="188.78" y2="1476.19" stroke="#231815" stroke-width="4.3" stroke-linecap="butt"/>
<g fill="#52778a" stroke="#000" stroke-width="1.25"><circle cx="279.0" cy="1330.3" r="5.6"/><circle cx="270.7" cy="1379.8" r="5.6"/><circle cx="286.8" cy="1384.4" r="5.6"/><circle cx="270.7" cy="1393.8" r="5.6"/><circle cx="254.9" cy="1396.4" r="5.6"/><circle cx="303.0" cy="1403.0" r="5.6"/><circle cx="286.8" cy="1404.4" r="5.6"/><circle cx="254.9" cy="1413.1" r="5.6"/><circle cx="270.7" cy="1413.5" r="5.6"/><circle cx="254.9" cy="1427.1" r="5.6"/><circle cx="270.7" cy="1427.9" r="5.6"/><circle cx="286.8" cy="1429.1" r="5.6"/><circle cx="303.0" cy="1435.5" r="5.6"/><circle cx="270.7" cy="1440.5" r="5.6"/><circle cx="286.8" cy="1441.5" r="5.6"/><circle cx="279.0" cy="1462.6" r="5.6"/></g>
<line x1="278.96" y1="1404.45" x2="278.96" y2="1418.88" stroke="#231815" stroke-width="4.3" stroke-linecap="butt"/>
<g fill="#d2505f" stroke="#000" stroke-width="1.25"><circle cx="405.0" cy="1353.9" r="5.6"/><circle cx="428.7" cy="1364.4" r="5.6"/><circle cx="452.7" cy="1361.0" r="5.6"/><circle cx="405.0" cy="1372.4" r="5.6"/><circle cx="428.7" cy="1384.0" r="5.6"/><circle cx="428.7" cy="1401.0" r="5.6"/><circle cx="428.7" cy="1413.5" r="5.6"/><circle cx="428.7" cy="1430.5" r="5.6"/><circle cx="428.7" cy="1444.5" r="5.6"/><circle cx="428.7" cy="1477.2" r="5.6"/><circle cx="452.7" cy="1488.6" r="5.6"/><circle cx="405.0" cy="1496.6" r="5.6"/></g>
<line x1="429.06" y1="1401.44" x2="429.06" y2="1430.10" stroke="#231815" stroke-width="4.3" stroke-linecap="butt"/>
<g fill="#93504c" stroke="#000" stroke-width="1.25"><circle cx="519.0" cy="1312.4" r="5.6"/><circle cx="519.0" cy="1413.8" r="5.6"/><circle cx="503.0" cy="1445.9" r="5.6"/><circle cx="494.4" cy="1451.9" r="5.6"/><circle cx="510.4" cy="1452.3" r="5.6"/><circle cx="527.1" cy="1453.7" r="5.6"/><circle cx="543.5" cy="1453.3" r="5.6"/><circle cx="519.0" cy="1455.3" r="5.6"/><circle cx="534.9" cy="1458.3" r="5.6"/><circle cx="503.0" cy="1460.9" r="5.6"/><circle cx="527.1" cy="1470.9" r="5.6"/><circle cx="510.8" cy="1473.3" r="5.6"/></g>
<line x1="519.24" y1="1429.24" x2="519.24" y2="1454.29" stroke="#231815" stroke-width="4.3" stroke-linecap="butt"/>
<text transform="translate(45.80 1354.50) rotate(-90) scale(1 1.045)" font-size="26" text-anchor="middle">Time spent (s)</text>
<path d="M191.20 1326.90V1248.70H426.70V1280.20" fill="none" stroke="#000" stroke-width="4.6" stroke-linejoin="round"/>
<text transform="translate(300.40 1237.40) scale(0.92 1)" font-family="'DejaVu Sans', sans-serif" font-weight="bold" font-size="39" text-anchor="middle" stroke="#000" stroke-width="0.5">*</text>
<text transform="translate(324.00 1237.40) scale(0.92 1)" font-family="'DejaVu Sans', sans-serif" font-weight="bold" font-size="39" text-anchor="middle" stroke="#000" stroke-width="0.5">*</text>
<text transform="translate(217.50 1529.40) rotate(-36.5)" font-size="28" text-anchor="end">Social</text>
<text transform="translate(310.00 1529.40) rotate(-36.5)" font-size="28" text-anchor="end">Neutral</text>
<text transform="translate(458.80 1529.40) rotate(-36.5)" font-size="28" text-anchor="end">Social</text>
<text transform="translate(551.40 1529.40) rotate(-36.5)" font-size="28" text-anchor="end">Neutral</text>
<line x1="148.00" y1="1594.80" x2="309.00" y2="1594.80" stroke="#000" stroke-width="2.6" stroke-linecap="butt"/>
<line x1="389.20" y1="1594.80" x2="550.50" y2="1594.80" stroke="#000" stroke-width="2.6" stroke-linecap="butt"/>
<text transform="translate(228.00 1629.00) scale(1 1.045)" font-size="26" text-anchor="middle">mCherry</text>
<text transform="translate(468.30 1629.00) scale(1 1.045)" font-size="26" text-anchor="middle">NpHR</text>
<text transform="translate(712.30 568.00) scale(1 1.045)" font-size="28.8">e</text>
<rect x="889.90" y="731.30" width="55.10" height="64.60" fill="#b4b4b5"/>
<rect x="975.50" y="702.70" width="55.50" height="28.60" fill="#d2505f"/>
<line x1="853.20" y1="731.30" x2="1060.30" y2="731.30" stroke="#000" stroke-width="4.6" stroke-linecap="butt"/>
<line x1="853.20" y1="881.20" x2="1061.70" y2="881.20" stroke="#000" stroke-width="4.6" stroke-linecap="butt"/>
<line x1="860.60" y1="579.70" x2="860.60" y2="883.50" stroke="#000" stroke-width="4.6" stroke-linecap="butt"/>
<line x1="853.20" y1="582.00" x2="860.60" y2="582.00" stroke="#000" stroke-width="4.6" stroke-linecap="butt"/>
<text transform="translate(834.40 589.23) scale(1 1.045)" font-size="26" text-anchor="end">1.0</text>
<line x1="853.20" y1="656.80" x2="860.60" y2="656.80" stroke="#000" stroke-width="4.6" stroke-linecap="butt"/>
<text transform="translate(834.40 664.03) scale(1 1.045)" font-size="26" text-anchor="end">0.5</text>
<line x1="853.20" y1="731.30" x2="860.60" y2="731.30" stroke="#000" stroke-width="4.6" stroke-linecap="butt"/>
<text transform="translate(834.40 738.53) scale(1 1.045)" font-size="26" text-anchor="end">0.0</text>
<line x1="853.20" y1="806.50" x2="860.60" y2="806.50" stroke="#000" stroke-width="4.6" stroke-linecap="butt"/>
<text transform="translate(834.40 813.73) scale(1 1.045)" font-size="26" text-anchor="end">-0.5</text>
<text transform="translate(834.40 888.43) scale(1 1.045)" font-size="26" text-anchor="end">-1.0</text>
<g fill="#b4b4b5" stroke="#000" stroke-width="1.25"><circle cx="917.4" cy="707.3" r="4.6"/><circle cx="917.4" cy="722.7" r="4.6"/><circle cx="917.4" cy="760.4" r="4.6"/><circle cx="909.6" cy="784.4" r="4.6"/><circle cx="893.7" cy="791.5" r="4.6"/><circle cx="941.4" cy="787.8" r="4.6"/><circle cx="909.6" cy="797.1" r="4.6"/><circle cx="941.4" cy="798.9" r="4.6"/><circle cx="893.7" cy="801.1" r="4.6"/><circle cx="925.4" cy="805.5" r="4.6"/><circle cx="909.6" cy="808.1" r="4.6"/><circle cx="941.4" cy="810.1" r="4.6"/><circle cx="925.4" cy="816.9" r="4.6"/><circle cx="917.4" cy="829.1" r="4.6"/><circle cx="925.4" cy="854.2" r="4.6"/><circle cx="909.6" cy="857.0" r="4.6"/></g>
<line x1="917.37" y1="785.44" x2="917.37" y2="805.48" stroke="#231815" stroke-width="4.3" stroke-linecap="butt"/>
<g fill="#d2505f" stroke="#000" stroke-width="1.25"><circle cx="993.7" cy="656.8" r="4.6"/><circle cx="1012.6" cy="655.6" r="4.6"/><circle cx="984.5" cy="672.2" r="4.6"/><circle cx="1003.1" cy="675.2" r="4.6"/><circle cx="984.5" cy="681.6" r="4.6"/><circle cx="1003.1" cy="686.2" r="4.6"/><circle cx="1022.0" cy="685.6" r="4.6"/><circle cx="1003.1" cy="697.9" r="4.6"/><circle cx="1003.1" cy="711.9" r="4.6"/><circle cx="993.7" cy="724.7" r="4.6"/><circle cx="1012.6" cy="724.7" r="4.6"/><circle cx="1003.1" cy="863.6" r="4.6"/></g>
<line x1="1003.15" y1="687.24" x2="1003.15" y2="718.31" stroke="#231815" stroke-width="4.3" stroke-linecap="butt"/>
<text transform="translate(768.70 738.60) rotate(-90) scale(1 1.045)" font-size="26" text-anchor="middle">Social interaction index</text>
<text transform="translate(856.80 928.50) scale(1 1.045)" font-size="26">mCherry</text>
<text transform="translate(966.20 928.50) scale(1 1.045)" font-size="26">NpHR</text>
<line x1="853.20" y1="731.30" x2="860.60" y2="731.30" stroke="#000" stroke-width="4.6" stroke-linecap="butt"/>
<text transform="translate(968.10 631.10) scale(0.92 1)" font-family="'DejaVu Sans', sans-serif" font-weight="bold" font-size="39" text-anchor="middle" stroke="#000" stroke-width="0.5">*</text>
<text transform="translate(991.10 631.10) scale(0.92 1)" font-family="'DejaVu Sans', sans-serif" font-weight="bold" font-size="39" text-anchor="middle" stroke="#000" stroke-width="0.5">*</text>
<text transform="translate(1013.60 631.10) scale(0.92 1)" font-family="'DejaVu Sans', sans-serif" font-weight="bold" font-size="39" text-anchor="middle" stroke="#000" stroke-width="0.5">*</text>
<text transform="translate(1037.60 631.10) scale(0.92 1)" font-family="'DejaVu Sans', sans-serif" font-weight="bold" font-size="39" text-anchor="middle" stroke="#000" stroke-width="0.5">*</text>
<text transform="translate(712.30 1177.40) scale(1 1.045)" font-size="28.8">g</text>
<rect x="889.30" y="1348.30" width="54.70" height="85.20" fill="#b4b4b5"/>
<rect x="975.10" y="1328.30" width="54.90" height="20.00" fill="#d2505f"/>
<line x1="850.20" y1="1348.30" x2="1060.30" y2="1348.30" stroke="#000" stroke-width="4.6" stroke-linecap="butt"/>
<line x1="850.20" y1="1498.60" x2="1061.70" y2="1498.60" stroke="#000" stroke-width="4.6" stroke-linecap="butt"/>
<line x1="859.80" y1="1196.30" x2="859.80" y2="1500.90" stroke="#000" stroke-width="4.6" stroke-linecap="butt"/>
<line x1="850.20" y1="1198.60" x2="859.80" y2="1198.60" stroke="#000" stroke-width="4.6" stroke-linecap="butt"/>
<text transform="translate(834.40 1207.78) scale(1 1.045)" font-size="26" text-anchor="end">1.0</text>
<line x1="850.20" y1="1273.60" x2="859.80" y2="1273.60" stroke="#000" stroke-width="4.6" stroke-linecap="butt"/>
<text transform="translate(834.40 1282.78) scale(1 1.045)" font-size="26" text-anchor="end">0.5</text>
<line x1="850.20" y1="1348.30" x2="859.80" y2="1348.30" stroke="#000" stroke-width="4.6" stroke-linecap="butt"/>
<text transform="translate(834.40 1357.48) scale(1 1.045)" font-size="26" text-anchor="end">0.0</text>
<line x1="850.20" y1="1423.50" x2="859.80" y2="1423.50" stroke="#000" stroke-width="4.6" stroke-linecap="butt"/>
<text transform="translate(834.40 1432.68) scale(1 1.045)" font-size="26" text-anchor="end">-0.5</text>
<text transform="translate(834.40 1507.78) scale(1 1.045)" font-size="26" text-anchor="end">-1.0</text>
<g fill="#b4b4b5" stroke="#000" stroke-width="1.25"><circle cx="916.4" cy="1293.6" r="5.6"/><circle cx="905.4" cy="1378.0" r="5.6"/><circle cx="916.8" cy="1378.4" r="5.6"/><circle cx="928.0" cy="1382.0" r="5.6"/><circle cx="916.8" cy="1393.0" r="5.6"/><circle cx="916.8" cy="1418.1" r="5.6"/><circle cx="916.8" cy="1441.5" r="5.6"/><circle cx="905.4" cy="1454.5" r="5.6"/><circle cx="928.0" cy="1464.2" r="5.6"/><circle cx="916.8" cy="1466.2" r="5.6"/><circle cx="939.4" cy="1469.6" r="5.6"/><circle cx="905.4" cy="1471.2" r="5.6"/><circle cx="928.0" cy="1476.2" r="5.6"/><circle cx="893.9" cy="1480.6" r="5.6"/><circle cx="916.8" cy="1480.0" r="5.6"/><circle cx="939.4" cy="1484.0" r="5.6"/></g>
<line x1="916.77" y1="1419.48" x2="916.77" y2="1446.53" stroke="#231815" stroke-width="4.3" stroke-linecap="butt"/>
<g fill="#d2505f" stroke="#000" stroke-width="1.25"><circle cx="1002.5" cy="1246.1" r="5.6"/><circle cx="979.9" cy="1274.6" r="5.6"/><circle cx="994.9" cy="1272.2" r="5.6"/><circle cx="1010.0" cy="1282.8" r="5.6"/><circle cx="1025.2" cy="1278.8" r="5.6"/><circle cx="1002.5" cy="1294.8" r="5.6"/><circle cx="987.1" cy="1329.3" r="5.6"/><circle cx="1017.6" cy="1334.3" r="5.6"/><circle cx="1002.5" cy="1338.3" r="5.6"/><circle cx="1002.5" cy="1359.8" r="5.6"/><circle cx="1002.5" cy="1435.1" r="5.6"/><circle cx="1002.5" cy="1494.2" r="5.6"/></g>
<line x1="1002.54" y1="1307.65" x2="1002.54" y2="1348.34" stroke="#231815" stroke-width="4.3" stroke-linecap="butt"/>
<text transform="translate(768.70 1359.00) rotate(-90) scale(1 1.045)" font-size="26" text-anchor="middle">Social interaction index</text>
<text transform="translate(856.80 1551.70) scale(1 1.045)" font-size="26">mCherry</text>
<text transform="translate(966.20 1551.70) scale(1 1.045)" font-size="26">NpHR</text>
<line x1="850.20" y1="1348.30" x2="859.80" y2="1348.30" stroke="#000" stroke-width="4.6" stroke-linecap="butt"/>
<text transform="translate(980.50 1224.00) scale(0.92 1)" font-family="'DejaVu Sans', sans-serif" font-weight="bold" font-size="39" text-anchor="middle" stroke="#000" stroke-width="0.5">*</text>
<text transform="translate(1003.50 1224.00) scale(0.92 1)" font-family="'DejaVu Sans', sans-serif" font-weight="bold" font-size="39" text-anchor="middle" stroke="#000" stroke-width="0.5">*</text>
<text transform="translate(1028.00 1224.00) scale(0.92 1)" font-family="'DejaVu Sans', sans-serif" font-weight="bold" font-size="39" text-anchor="middle" stroke="#000" stroke-width="0.5">*</text>
<text transform="translate(1183.40 568.80) scale(1 1.045)" font-size="28.8">h</text>
<rect x="1340.70" y="723.40" width="54.10" height="155.50" fill="#b4b4b5"/>
<rect x="1425.90" y="679.70" width="54.10" height="199.20" fill="#d2505f"/>
<line x1="1302.30" y1="878.90" x2="1511.10" y2="878.90" stroke="#000" stroke-width="4.6" stroke-linecap="butt"/>
<line x1="1311.30" y1="577.80" x2="1311.30" y2="881.20" stroke="#000" stroke-width="4.6" stroke-linecap="butt"/>
<line x1="1301.90" y1="580.10" x2="1311.30" y2="580.10" stroke="#000" stroke-width="4.6" stroke-linecap="butt"/>
<text transform="translate(1287.90 590.43) scale(1 1.045)" font-size="26" text-anchor="end">15</text>
<line x1="1301.90" y1="679.90" x2="1311.30" y2="679.90" stroke="#000" stroke-width="4.6" stroke-linecap="butt"/>
<text transform="translate(1287.90 690.23) scale(1 1.045)" font-size="26" text-anchor="end">10</text>
<line x1="1301.90" y1="779.50" x2="1311.30" y2="779.50" stroke="#000" stroke-width="4.6" stroke-linecap="butt"/>
<text transform="translate(1287.90 789.83) scale(1 1.045)" font-size="26" text-anchor="end">5</text>
<text transform="translate(1287.90 889.23) scale(1 1.045)" font-size="26" text-anchor="end">0</text>
<g fill="#b4b4b5" stroke="#000" stroke-width="1.25"><circle cx="1362.0" cy="640.2" r="5.6"/><circle cx="1373.4" cy="640.2" r="5.6"/><circle cx="1367.8" cy="660.2" r="5.6"/><circle cx="1362.0" cy="699.9" r="5.6"/><circle cx="1373.4" cy="699.9" r="5.6"/><circle cx="1362.0" cy="719.8" r="5.6"/><circle cx="1373.4" cy="719.8" r="5.6"/><circle cx="1345.3" cy="739.8" r="5.6"/><circle cx="1356.4" cy="739.8" r="5.6"/><circle cx="1367.8" cy="739.8" r="5.6"/><circle cx="1379.0" cy="739.8" r="5.6"/><circle cx="1390.4" cy="739.8" r="5.6"/><circle cx="1367.8" cy="759.8" r="5.6"/><circle cx="1356.4" cy="779.5" r="5.6"/><circle cx="1367.8" cy="779.5" r="5.6"/><circle cx="1379.0" cy="779.5" r="5.6"/></g>
<line x1="1367.79" y1="712.34" x2="1367.79" y2="734.39" stroke="#231815" stroke-width="4.3" stroke-linecap="butt"/>
<g fill="#d2505f" stroke="#000" stroke-width="1.25"><circle cx="1452.6" cy="600.1" r="5.6"/><circle cx="1441.5" cy="620.2" r="5.6"/><circle cx="1464.0" cy="620.2" r="5.6"/><circle cx="1452.6" cy="640.2" r="5.6"/><circle cx="1430.5" cy="660.2" r="5.6"/><circle cx="1452.6" cy="660.2" r="5.6"/><circle cx="1475.4" cy="660.2" r="5.6"/><circle cx="1452.6" cy="679.9" r="5.6"/><circle cx="1452.6" cy="699.9" r="5.6"/><circle cx="1452.6" cy="759.8" r="5.6"/><circle cx="1441.5" cy="779.5" r="5.6"/><circle cx="1464.0" cy="779.5" r="5.6"/></g>
<line x1="1452.56" y1="662.24" x2="1452.56" y2="697.71" stroke="#231815" stroke-width="4.3" stroke-linecap="butt"/>
<text transform="translate(1238.10 733.80) rotate(-90) scale(1 1.045)" font-size="26" text-anchor="middle">Approacht imes (#)</text>
<text transform="translate(1306.80 929.10) scale(1 1.045)" font-size="26">mCherry</text>
<text transform="translate(1421.00 929.10) scale(1 1.045)" font-size="26">NpHR</text>
<text transform="translate(1449.60 582.00) scale(0.92 1)" font-family="'DejaVu Sans', sans-serif" font-weight="bold" font-size="39" text-anchor="middle" stroke="#000" stroke-width="0.5">*</text>
<text transform="translate(1641.30 568.60) scale(1 1.045)" font-size="28.8">i</text>
<rect x="1795.40" y="756.40" width="54.30" height="122.50" fill="#b4b4b5"/>
<rect x="1881.00" y="716.40" width="54.30" height="162.50" fill="#d2505f"/>
<line x1="1756.90" y1="878.90" x2="1966.70" y2="878.90" stroke="#000" stroke-width="4.6" stroke-linecap="butt"/>
<line x1="1765.70" y1="577.80" x2="1765.70" y2="881.20" stroke="#000" stroke-width="4.6" stroke-linecap="butt"/>
<line x1="1756.90" y1="580.10" x2="1765.70" y2="580.10" stroke="#000" stroke-width="4.6" stroke-linecap="butt"/>
<text transform="translate(1741.50 590.33) scale(1 1.045)" font-size="26" text-anchor="end">15</text>
<line x1="1756.90" y1="679.90" x2="1765.70" y2="679.90" stroke="#000" stroke-width="4.6" stroke-linecap="butt"/>
<text transform="translate(1741.50 690.13) scale(1 1.045)" font-size="26" text-anchor="end">10</text>
<line x1="1756.90" y1="779.50" x2="1765.70" y2="779.50" stroke="#000" stroke-width="4.6" stroke-linecap="butt"/>
<text transform="translate(1741.50 789.73) scale(1 1.045)" font-size="26" text-anchor="end">5</text>
<text transform="translate(1741.50 889.13) scale(1 1.045)" font-size="26" text-anchor="end">0</text>
<g fill="#b4b4b5" stroke="#000" stroke-width="1.25"><circle cx="1822.4" cy="681.7" r="5.6"/><circle cx="1811.0" cy="702.3" r="5.6"/><circle cx="1822.4" cy="707.9" r="5.6"/><circle cx="1833.9" cy="735.8" r="5.6"/><circle cx="1822.4" cy="739.4" r="5.6"/><circle cx="1811.0" cy="751.8" r="5.6"/><circle cx="1799.8" cy="761.4" r="5.6"/><circle cx="1845.1" cy="765.5" r="5.6"/><circle cx="1833.9" cy="768.1" r="5.6"/><circle cx="1799.8" cy="773.5" r="5.6"/><circle cx="1811.0" cy="773.1" r="5.6"/><circle cx="1822.4" cy="775.5" r="5.6"/><circle cx="1833.9" cy="781.1" r="5.6"/><circle cx="1822.4" cy="791.1" r="5.6"/><circle cx="1833.9" cy="793.5" r="5.6"/><circle cx="1811.0" cy="798.1" r="5.6"/></g>
<line x1="1822.45" y1="748.42" x2="1822.45" y2="764.45" stroke="#231815" stroke-width="4.3" stroke-linecap="butt"/>
<g fill="#d2505f" stroke="#000" stroke-width="1.25"><circle cx="1930.7" cy="626.8" r="5.6"/><circle cx="1908.2" cy="636.8" r="5.6"/><circle cx="1908.2" cy="683.9" r="5.6"/><circle cx="1897.0" cy="696.7" r="5.6"/><circle cx="1919.6" cy="696.7" r="5.6"/><circle cx="1885.6" cy="711.3" r="5.6"/><circle cx="1908.2" cy="723.4" r="5.6"/><circle cx="1908.2" cy="738.0" r="5.6"/><circle cx="1930.7" cy="759.0" r="5.6"/><circle cx="1908.2" cy="769.9" r="5.6"/><circle cx="1885.6" cy="778.5" r="5.6"/><circle cx="1930.7" cy="777.9" r="5.6"/></g>
<line x1="1908.22" y1="701.92" x2="1908.22" y2="729.38" stroke="#231815" stroke-width="4.3" stroke-linecap="butt"/>
<text transform="translate(1685.20 738.80) rotate(-90) scale(1 1.045)" font-size="26" text-anchor="middle">Approach speed (cm/s)</text>
<text transform="translate(1762.80 929.10) scale(1 1.045)" font-size="26">mCherry</text>
<text transform="translate(1878.10 929.10) scale(1 1.045)" font-size="26">NpHR</text>
<text transform="translate(1903.60 600.40) scale(0.92 1)" font-family="'DejaVu Sans', sans-serif" font-weight="bold" font-size="39" text-anchor="middle" stroke="#000" stroke-width="0.5">*</text>
<text transform="translate(1192.50 1180.60) scale(1 1.045)" font-size="28.8">j</text>
<rect x="1339.30" y="1464.90" width="54.70" height="33.50" fill="#b4b4b5"/>
<rect x="1424.90" y="1425.10" width="55.10" height="73.30" fill="#d2505f"/>
<line x1="1300.30" y1="1498.40" x2="1511.10" y2="1498.40" stroke="#000" stroke-width="4.6" stroke-linecap="butt"/>
<line x1="1309.70" y1="1195.80" x2="1309.70" y2="1500.70" stroke="#000" stroke-width="4.6" stroke-linecap="butt"/>
<line x1="1300.30" y1="1198.10" x2="1309.70" y2="1198.10" stroke="#000" stroke-width="4.6" stroke-linecap="butt"/>
<text transform="translate(1287.40 1207.63) scale(1 1.045)" font-size="26" text-anchor="end">80</text>
<line x1="1300.30" y1="1273.20" x2="1309.70" y2="1273.20" stroke="#000" stroke-width="4.6" stroke-linecap="butt"/>
<text transform="translate(1287.40 1282.73) scale(1 1.045)" font-size="26" text-anchor="end">60</text>
<line x1="1300.30" y1="1348.40" x2="1309.70" y2="1348.40" stroke="#000" stroke-width="4.6" stroke-linecap="butt"/>
<text transform="translate(1287.40 1357.93) scale(1 1.045)" font-size="26" text-anchor="end">40</text>
<line x1="1300.30" y1="1423.50" x2="1309.70" y2="1423.50" stroke="#000" stroke-width="4.6" stroke-linecap="butt"/>
<text transform="translate(1287.40 1433.03) scale(1 1.045)" font-size="26" text-anchor="end">20</text>
<text transform="translate(1287.40 1507.93) scale(1 1.045)" font-size="26" text-anchor="end">0</text>
<g fill="#b4b4b5" stroke="#000" stroke-width="1.25"><circle cx="1366.8" cy="1384.6" r="5.6"/><circle cx="1370.4" cy="1404.6" r="5.6"/><circle cx="1362.8" cy="1407.8" r="5.6"/><circle cx="1374.0" cy="1444.3" r="5.6"/><circle cx="1366.4" cy="1450.9" r="5.6"/><circle cx="1374.0" cy="1465.9" r="5.6"/><circle cx="1381.4" cy="1477.4" r="5.6"/><circle cx="1344.3" cy="1480.4" r="5.6"/><circle cx="1374.0" cy="1482.4" r="5.6"/><circle cx="1352.0" cy="1486.8" r="5.6"/><circle cx="1366.4" cy="1488.4" r="5.6"/><circle cx="1381.4" cy="1489.4" r="5.6"/><circle cx="1344.3" cy="1492.4" r="5.6"/><circle cx="1359.0" cy="1491.4" r="5.6"/><circle cx="1374.0" cy="1494.0" r="5.6"/><circle cx="1389.4" cy="1494.0" r="5.6"/></g>
<line x1="1366.79" y1="1456.31" x2="1366.79" y2="1473.35" stroke="#231815" stroke-width="4.3" stroke-linecap="butt"/>
<g fill="#d2505f" stroke="#000" stroke-width="1.25"><circle cx="1452.6" cy="1261.6" r="5.6"/><circle cx="1452.6" cy="1318.0" r="5.6"/><circle cx="1452.6" cy="1404.6" r="5.6"/><circle cx="1430.1" cy="1431.9" r="5.6"/><circle cx="1475.0" cy="1431.9" r="5.6"/><circle cx="1452.6" cy="1437.7" r="5.6"/><circle cx="1430.1" cy="1444.9" r="5.6"/><circle cx="1475.0" cy="1446.9" r="5.6"/><circle cx="1452.6" cy="1453.3" r="5.6"/><circle cx="1452.6" cy="1486.4" r="5.6"/><circle cx="1475.0" cy="1489.8" r="5.6"/><circle cx="1430.1" cy="1494.4" r="5.6"/></g>
<line x1="1452.56" y1="1405.61" x2="1452.56" y2="1444.29" stroke="#231815" stroke-width="4.3" stroke-linecap="butt"/>
<text transform="translate(1238.10 1359.40) rotate(-90) scale(1 1.045)" font-size="26" text-anchor="middle">Investigation duration (s)</text>
<text transform="translate(1316.20 1553.10) scale(1 1.045)" font-size="26">mCherry</text>
<text transform="translate(1421.00 1553.10) scale(1 1.045)" font-size="26">NpHR</text>
<path d="M1366.40 1339.80V1205.10H1451.80V1236.80" fill="none" stroke="#000" stroke-width="4.6" stroke-linejoin="round"/>
<text transform="translate(1407.20 1191.70) scale(1 1.045)" font-size="26" text-anchor="middle">p=0.06</text>
<text transform="translate(1634.20 1180.50) scale(1 1.045)" font-size="28.8">k</text>
<rect x="1794.40" y="1270.70" width="54.70" height="227.70" fill="#b4b4b5"/>
<rect x="1880.60" y="1403.10" width="54.70" height="95.30" fill="#d2505f"/>
<line x1="1755.30" y1="1498.40" x2="1966.70" y2="1498.40" stroke="#000" stroke-width="4.6" stroke-linecap="butt"/>
<line x1="1764.70" y1="1195.80" x2="1764.70" y2="1500.70" stroke="#000" stroke-width="4.6" stroke-linecap="butt"/>
<line x1="1755.30" y1="1198.10" x2="1764.70" y2="1198.10" stroke="#000" stroke-width="4.6" stroke-linecap="butt"/>
<text transform="translate(1740.30 1207.38) scale(1 1.045)" font-size="26" text-anchor="end">100</text>
<line x1="1755.30" y1="1348.00" x2="1764.70" y2="1348.00" stroke="#000" stroke-width="4.6" stroke-linecap="butt"/>
<text transform="translate(1740.30 1357.28) scale(1 1.045)" font-size="26" text-anchor="end">50</text>
<text transform="translate(1740.30 1507.68) scale(1 1.045)" font-size="26" text-anchor="end">0</text>
<g fill="#b4b4b5" stroke="#000" stroke-width="1.25"><circle cx="1798.4" cy="1198.1" r="5.6"/><circle cx="1808.0" cy="1198.1" r="5.6"/><circle cx="1817.4" cy="1198.1" r="5.6"/><circle cx="1826.5" cy="1198.1" r="5.6"/><circle cx="1835.5" cy="1198.1" r="5.6"/><circle cx="1844.5" cy="1198.1" r="5.6"/><circle cx="1821.4" cy="1225.6" r="5.6"/><circle cx="1821.4" cy="1240.8" r="5.6"/><circle cx="1821.4" cy="1273.3" r="5.6"/><circle cx="1816.8" cy="1298.3" r="5.6"/><circle cx="1826.1" cy="1298.3" r="5.6"/><circle cx="1821.4" cy="1318.4" r="5.6"/><circle cx="1816.8" cy="1348.0" r="5.6"/><circle cx="1826.1" cy="1348.0" r="5.6"/><circle cx="1821.4" cy="1364.5" r="5.6"/><circle cx="1821.4" cy="1423.2" r="5.6"/></g>
<line x1="1822.05" y1="1252.64" x2="1822.05" y2="1288.32" stroke="#231815" stroke-width="4.3" stroke-linecap="butt"/>
<g fill="#d2505f" stroke="#000" stroke-width="1.25"><circle cx="1907.6" cy="1198.1" r="5.6"/><circle cx="1907.6" cy="1273.3" r="5.6"/><circle cx="1907.6" cy="1348.5" r="5.6"/><circle cx="1907.6" cy="1398.2" r="5.6"/><circle cx="1919.6" cy="1412.8" r="5.6"/><circle cx="1895.6" cy="1423.6" r="5.6"/><circle cx="1919.6" cy="1429.3" r="5.6"/><circle cx="1895.6" cy="1438.3" r="5.6"/><circle cx="1919.6" cy="1443.7" r="5.6"/><circle cx="1907.6" cy="1475.8" r="5.6"/><circle cx="1895.6" cy="1498.4" r="5.6"/><circle cx="1919.6" cy="1498.4" r="5.6"/></g>
<line x1="1908.02" y1="1377.89" x2="1908.02" y2="1428.60" stroke="#231815" stroke-width="4.3" stroke-linecap="butt"/>
<text transform="translate(1685.20 1359.00) rotate(-90) scale(1 1.045)" font-size="26" text-anchor="middle">Stretched postures (%)</text>
<text transform="translate(1762.80 1553.10) scale(1 1.045)" font-size="26">mCherry</text>
<text transform="translate(1878.10 1553.10) scale(1 1.045)" font-size="26">NpHR</text>
<text transform="translate(1884.20 1177.00) scale(0.92 1)" font-family="'DejaVu Sans', sans-serif" font-weight="bold" font-size="39" text-anchor="middle" stroke="#000" stroke-width="0.5">*</text>
<text transform="translate(1907.60 1177.00) scale(0.92 1)" font-family="'DejaVu Sans', sans-serif" font-weight="bold" font-size="39" text-anchor="middle" stroke="#000" stroke-width="0.5">*</text>
<text transform="translate(1931.10 1177.00) scale(0.92 1)" font-family="'DejaVu Sans', sans-serif" font-weight="bold" font-size="39" text-anchor="middle" stroke="#000" stroke-width="0.5">*</text>
</svg>
</body>
</html>
